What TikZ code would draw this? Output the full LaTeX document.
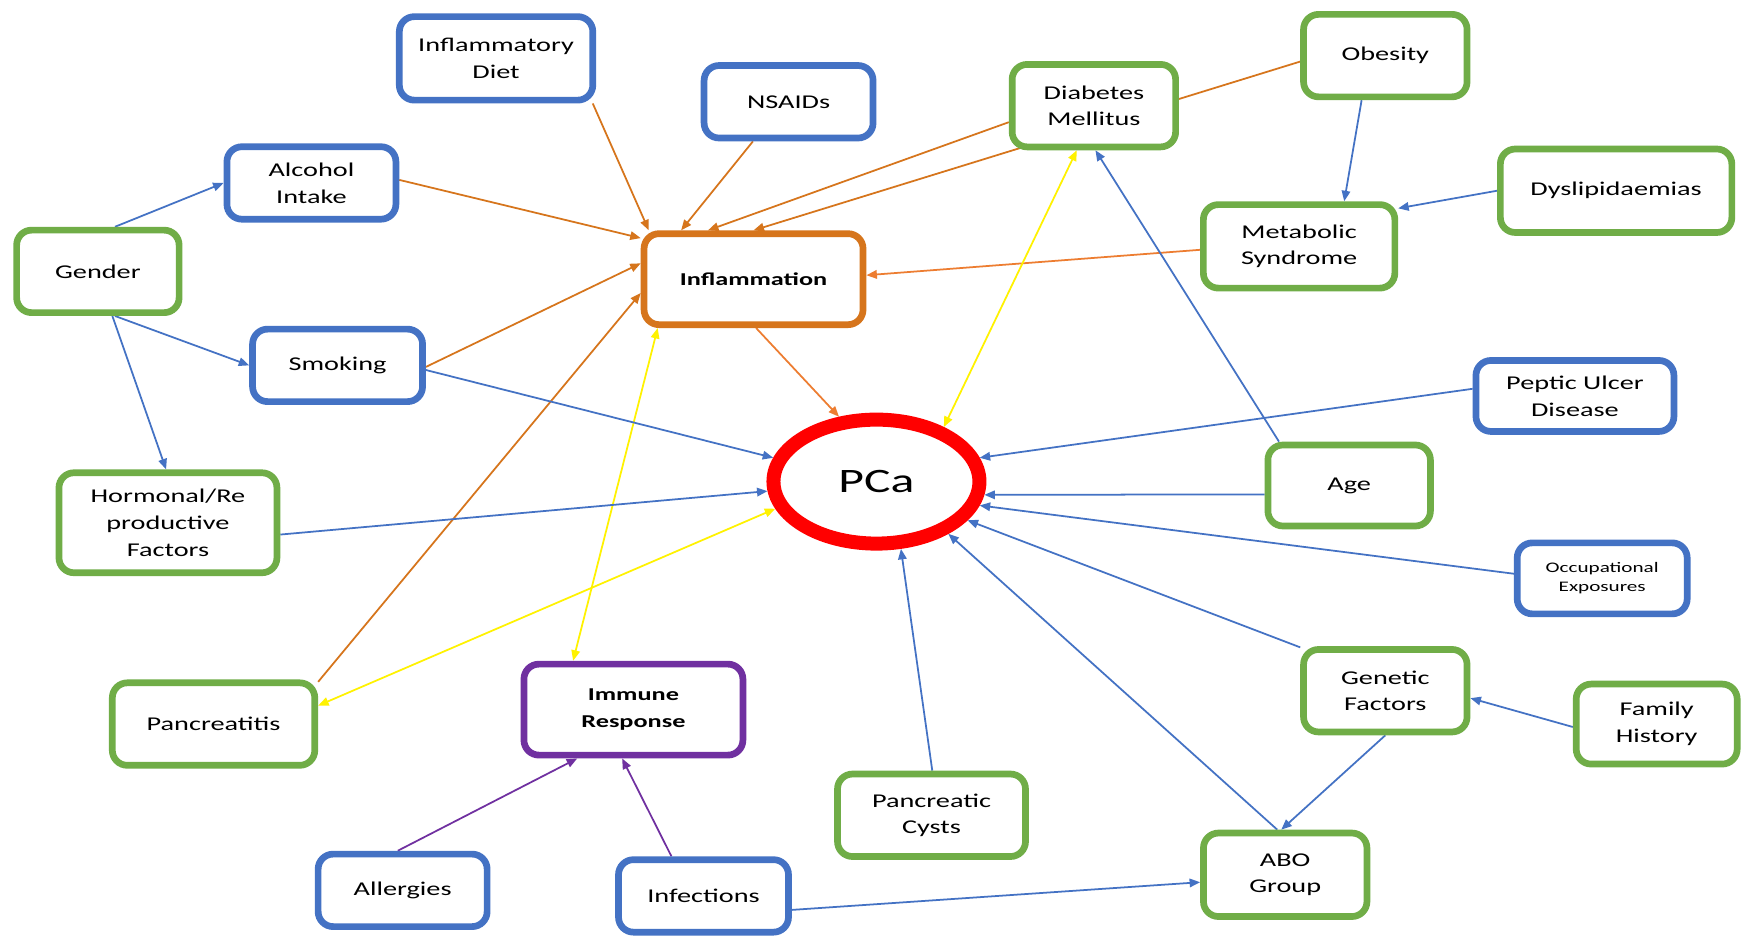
\documentclass[tikz,border=0pt]{standalone}
\usepackage{fontspec}
\setmainfont[FakeStretch=1.45]{Carlito}
\usetikzlibrary{
	arrows.meta,
	backgrounds,
	shapes.geometric,
}
\definecolor{factorblue}{HTML}{4472C4}
\definecolor{factorgreen}{HTML}{70AD47}
\definecolor{inflorange}{RGB}{214,117,28}
\definecolor{lightorange}{HTML}{ED7D31}
\definecolor{immunepurple}{HTML}{7030A0}

\begin{document}
\begin{tikzpicture}[x=0.022244cm, y=-0.022244cm,
	factor/.style={draw, fill=white, rounded corners=0.3cm, line width=0.134cm, inner sep=0pt, align=center, font=\fontsize{11.1}{15.2}\selectfont},
	bluebox/.style={factor, draw=factorblue},
	greenbox/.style={factor, draw=factorgreen},
	boxsize/.style 2 args={minimum width=#1, minimum height=#2},
	link/.style={line width=1pt, -{Triangle[length=0.21cm, width=0.17cm]}},
	bluelink/.style={link, factorblue},
	orangelink/.style={link, inflorange},
	purplelink/.style={link, immunepurple},
	yellowlink/.style={line width=1pt, yellow, {Triangle[length=0.21cm, width=0.17cm]}-{Triangle[length=0.21cm, width=0.17cm]}},
]
				\useasboundingbox (0,0) rectangle (1568,844);
				\node[bluebox, boxsize={3.87cm}{1.67cm}] (diet) at (446,52.5) {Inflammatory\\Diet};
				\node[bluebox, boxsize={3.38cm}{1.45cm}] (nsaids) at (709,91.5) {NSAIDs};
				\node[bluebox, boxsize={3.38cm}{1.45cm}] (alcohol) at (280,164.5) {Alcohol\\Intake};
				\node[greenbox, boxsize={3.25cm}{1.65cm}] (gender) at (88,244) {Gender};
				\node[bluebox, boxsize={3.40cm}{1.45cm}] (smoking) at (303.5,328.5) {Smoking};
				\node[greenbox, boxsize={4.36cm}{2.00cm}] (hormonal) at (151,470) {Hormonal/Re\\productive\\Factors};
				\node[greenbox, boxsize={4.05cm}{1.65cm}] (pancreatitis) at (192,651) {Pancreatitis};
				\node[factor, draw=immunepurple, font=\fontsize{10.3}{15.2}\selectfont\bfseries, boxsize={4.38cm}{1.82cm}] (immune) at (569.5,638) {Immune\\Response};
				\node[bluebox, boxsize={3.38cm}{1.45cm}] (allergies) at (362,800.5) {Allergies};
				\node[bluebox, boxsize={3.40cm}{1.45cm}] (infections) at (632.5,805.5) {Infections};
				\node[greenbox, boxsize={3.76cm}{1.65cm}] (cysts) at (837.5,733) {Pancreatic\\Cysts};
				\node[greenbox, boxsize={3.27cm}{1.67cm}] (abo) at (1155.5,786.5) {ABO\\Group};
				\node[greenbox, boxsize={3.27cm}{1.65cm}] (genetic) at (1245.5,621) {Genetic\\Factors};
				\node[greenbox, boxsize={3.22cm}{1.60cm}] (family) at (1489.5,651) {Family\\History};
				\node[bluebox, boxsize={3.40cm}{1.42cm}, font=\fontsize{8.3}{10.8}\selectfont] (occupational) at (1440.5,520) {Occupational\\Exposures};
				\node[greenbox, boxsize={3.25cm}{1.62cm}] (age) at (1213,436.5) {Age};
				\node[bluebox, boxsize={3.96cm}{1.42cm}] (peptic) at (1416,356) {Peptic Ulcer\\Disease};
				\node[greenbox, boxsize={3.83cm}{1.67cm}] (metabolic) at (1168,221.5) {Metabolic\\Syndrome};
				\node[greenbox, boxsize={4.63cm}{1.67cm}] (dyslipid) at (1453,171.5) {Dyslipidaemias};
				\node[greenbox, boxsize={3.27cm}{1.65cm}] (obesity) at (1245.5,50) {Obesity};
				\node[greenbox, boxsize={3.27cm}{1.65cm}] (diabetes) at (983.5,95) {Diabetes\\Mellitus};
				\node[factor, draw=inflorange, font=\fontsize{10.3}{15.2}\selectfont\bfseries, boxsize={4.38cm}{1.82cm}] (inflammation) at (677.5,251) {Inflammation};
				\node[ellipse, draw=red, fill=white, line width=0.28cm, inner sep=0pt, minimum width=4.12cm, minimum height=2.48cm, font=\fontsize{19.5}{20}\selectfont] (pca) at (788,433) {PCa};
				\begin{scope}[on background layer]
					\fill[white] (0,0) rectangle (1568,844);
					\draw[orangelink] (diet.335) -- (inflammation.155);
					\draw[orangelink] (nsaids.228) -- (inflammation.146);
					\draw[orangelink] (alcohol.2) -- (inflammation.160);
					\draw[orangelink] (diabetes.191) -- (inflammation.133);
					\draw[orangelink] (obesity.184) -- (inflammation.90);
					\draw[orangelink, lightorange] (metabolic.182) -- (inflammation.2);
					\draw[orangelink] (smoking.359) -- (inflammation.172);
					\draw[orangelink] (pancreatitis.22) -- (inflammation.187);
					\draw[orangelink, lightorange] (inflammation.273) -- (pca.120);
					\draw[yellowlink] (inflammation.207) -- (immune.141);
					\draw[yellowlink] (diabetes.249) -- (pca.39);
					\draw[yellowlink] (pca.195) -- (pancreatitis.10);
					\draw[bluelink] (gender.69) -- (alcohol.180);
					\draw[bluelink] (gender.291) -- (smoking.180);
					\draw[bluelink] (gender.288) -- (hormonal.92);
					\draw[bluelink] (smoking.357) -- (pca.167);
					\draw[bluelink] (hormonal.354) -- (pca.185);
					\draw[bluelink] (peptic.176) -- (pca.13);
					\draw[bluelink] (age.186) -- (pca.353);
					\draw[bluelink] (age.148) -- (diabetes.272);
					\draw[bluelink] (occupational.177) -- (pca.347);
					\draw[bluelink] (genetic.153) -- (pca.337);
					\draw[bluelink] (abo.100) -- (pca.324);
					\draw[bluelink] (genetic.270) -- (abo.95);
					\draw[bluelink] (family.182) -- (genetic.355);
					\draw[bluelink] (infections.351) -- (abo.185);
					\draw[bluelink] (cysts.89) -- (pca.290);
					\draw[bluelink] (obesity.242) -- (metabolic.45);
					\draw[bluelink] (dyslipid.180) -- (metabolic.21);
					\draw[purplelink] (allergies.97) -- (immune.221);
					\draw[purplelink] (infections.129) -- (immune.257);
				\end{scope}
\end{tikzpicture}
\end{document}
